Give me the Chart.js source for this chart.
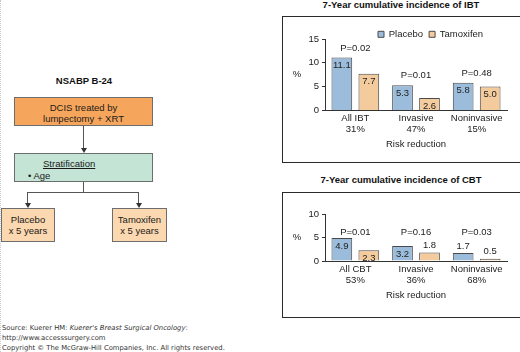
<!DOCTYPE html>
<html>
<head>
<meta charset="utf-8">
<script src="https://cdn.jsdelivr.net/npm/chart.js@4.4.0/dist/chart.umd.min.js"></script>
<style>
  body { margin: 0; background: #fff; }
  #page { position: relative; width: 520px; height: 352px; overflow: hidden;
          font-family: 'Liberation Sans', Arial, sans-serif; color: #222;
          border-left: 1px dotted #c8c8c8; box-sizing: border-box; }
  .abs { position: absolute; }
  .ttl { position: absolute; font-weight: bold; font-size: 9.5px; line-height: 11px; text-align: center; white-space: nowrap; color: #111; }
  .frame { position: absolute; border: 1px solid #2a2a2a; box-sizing: border-box; }
  .fbox { position: absolute; border: 1px solid #6d6d6d; box-sizing: border-box; color: #1a1a1a;
          font-size: 9.5px; line-height: 11.4px; text-align: center; }
  .vline { position: absolute; width: 1px; background: #555; }
  .hline { position: absolute; height: 1px; background: #555; }
  .head { position: absolute; width: 0; height: 0; border-left: 3px solid transparent;
          border-right: 3px solid transparent; border-top: 5px solid #333; }
  .foot { position: absolute; left: 1px; font-family: 'DejaVu Sans', Verdana, sans-serif;
          font-size: 6.8px; line-height: 8px; color: #333; white-space: nowrap; }
  canvas { position: absolute; }
</style>
</head>
<body>
<div id="page">
  <!-- flow chart -->
  <div class="ttl" style="left:33px; width:100px; top:74.5px;">NSABP B-24</div>
  <div class="fbox" style="left:13px; top:97px; width:139px; height:29px; background:#f6a65c; padding-top:4px;">DCIS treated by<br>lumpectomy + XRT</div>
  <div class="vline" style="left:82px; top:126px; height:22px;"></div>
  <div class="head" style="left:79.5px; top:148px;"></div>
  <div class="fbox" style="left:13px; top:153px; width:139px; height:29px; background:#c4e4d6; text-align:left;">
    <div class="abs" style="left:28px; top:4px; text-decoration:underline;">Stratification</div>
    <div class="abs" style="left:13px; top:15.5px;">&bull; Age</div>
  </div>
  <div class="vline" style="left:82px; top:182px; height:11px;"></div>
  <div class="hline" style="left:26px; top:192px; width:112px;"></div>
  <div class="vline" style="left:26px; top:192px; height:11px;"></div>
  <div class="vline" style="left:137px; top:192px; height:11px;"></div>
  <div class="head" style="left:23.5px; top:203px;"></div>
  <div class="head" style="left:134.5px; top:203px;"></div>
  <div class="fbox" style="left:0px; top:208px; width:54px; height:34px; background:#fbd8b0; padding-top:5px;">Placebo<br>x 5 years</div>
  <div class="fbox" style="left:111px; top:208px; width:55px; height:34px; background:#fbd8b0; padding-top:5px;">Tamoxifen<br>x 5 years</div>

  <!-- charts -->
  <div class="ttl" style="left:281px; width:238px; top:-1px;">7-Year cumulative incidence of IBT</div>
  <div class="frame" style="left:281px; top:16px; width:239px; height:147px;"></div>
  <canvas id="chartIBT" width="236" height="144" style="left:282px; top:17px;"></canvas>

  <div class="ttl" style="left:281px; width:238px; top:174px;">7-Year cumulative incidence of CBT</div>
  <div class="frame" style="left:281px; top:192px; width:239px; height:126px;"></div>
  <canvas id="chartCBT" width="236" height="123" style="left:282px; top:193px;"></canvas>

  <!-- footer -->
  <div class="foot" style="top:324px;">Source: Kuerer HM: <i>Kuerer's Breast Surgical Oncology</i>:</div>
  <div class="foot" style="top:333.5px;">http://www.accesssurgery.com</div>
  <div class="foot" style="top:343.5px;">Copyright &copy; The McGraw-Hill Companies, Inc. All rights reserved.</div>
</div>

<script>
// IBT chart data
const groupsIBT = [['All IBT', '31%'], ['Invasive', '47%'], ['Noninvasive', '15%']];
const placeboIBT = [11.1, 5.3, 5.8];
const tamoxifenIBT = [7.7, 2.6, 5.0];
const pValuesIBT = ['P=0.02', 'P=0.01', 'P=0.48'];
const yMaxIBT = 15;

// CBT chart data
const groupsCBT = [['All CBT', '53%'], ['Invasive', '36%'], ['Noninvasive', '68%']];
const placeboCBT = [4.9, 3.2, 1.7];
const tamoxifenCBT = [2.3, 1.8, 0.5];
const pValuesCBT = ['P=0.01', 'P=0.16', 'P=0.03'];
const yMaxCBT = 10;

const yStep = 5;
const FONT = "'Liberation Sans', Arial, sans-serif";
const blue = '#9bbddb';
const tan = '#f4cb9c';
const edge = '#4a4a4a';

Chart.defaults.font.family = FONT;
Chart.defaults.font.size = 9.5;
Chart.defaults.color = '#222';

// value labels on bars, p values over each group, and the "%" unit
const barText = {
    id: 'barText',
    afterDatasetsDraw(chart, args, opts) {
        const ctx = chart.ctx;
        const ys = chart.scales.y;
        const metas = chart.data.datasets.map((d, i) => chart.getDatasetMeta(i));
        ctx.save();
        ctx.font = '9.5px ' + FONT;
        ctx.fillStyle = '#222';
        ctx.textAlign = 'center';
        ctx.textBaseline = 'middle';
        chart.data.datasets.forEach((ds, i) => {
            metas[i].data.forEach((bar, j) => {
                const v = ds.data[j];
                const ty = v >= 2 ? bar.y + 8 : bar.y - 7;
                ctx.fillText(v.toFixed(1), bar.x, ty);
            });
        });
        opts.labels.forEach((t, j) => {
            const top = Math.min(...metas.map(m => m.data[j].y));
            const x = chart.scales.x.getPixelForValue(j);
            const py = opts.level != null ? ys.getPixelForValue(opts.level) : top - opts.gap;
            ctx.fillText(t, x, py);
        });
        ctx.fillText('%', opts.unitX, (ys.top + ys.bottom) / 2);
        ctx.restore();
    }
};

// fixed legend height, and legend placed where the picture has it
const legendPlace = {
    id: 'legendPlace',
    beforeInit(chart, args, opts) {
        const fit = chart.legend.fit;
        chart.legend.fit = function () {
            fit.call(this);
            this.height = opts.height;
        };
    },
    afterLayout(chart, args, opts) {
        const lg = chart.legend;
        const pad = lg.options.labels.padding;
        const w = lg.right - lg.left;
        lg.left = opts.x - pad;
        lg.right = lg.left + w;
        lg.top = opts.y - pad - 9.5 / 2;
    }
};

function makeChart(id, groups, placebo, tamoxifen, pValues, yMax, place) {
    return new Chart(document.getElementById(id), {
        type: 'bar',
        data: {
            labels: groups,
            datasets: [
                { label: 'Placebo', data: placebo, backgroundColor: blue, borderColor: edge, borderWidth: 1 },
                { label: 'Tamoxifen', data: tamoxifen, backgroundColor: tan, borderColor: edge, borderWidth: 1 }
            ]
        },
        options: {
            responsive: false,
            animation: false,
            devicePixelRatio: 1,
            layout: { padding: { top: 0, left: 0, right: 12, bottom: place.bottom } },
            datasets: { bar: { categoryPercentage: 0.89, barPercentage: 0.767 } },
            scales: {
                x: {
                    grid: { drawOnChartArea: false, drawTicks: false },
                    border: { color: '#333' },
                    ticks: { padding: 2.3, maxRotation: 0, autoSkip: false },
                    title: { display: true, text: 'Risk reduction', padding: { top: 1, bottom: 4 } }
                },
                y: {
                    min: 0,
                    max: yMax,
                    ticks: { stepSize: yStep, padding: 3 },
                    grid: { drawOnChartArea: false, tickLength: 3, color: '#333' },
                    border: { color: '#333' },
                    afterFit(s) { s.width = 42; }
                }
            },
            plugins: {
                legend: {
                    position: 'top',
                    align: 'start',
                    labels: { boxWidth: 6, boxHeight: 6, padding: 6 }
                },
                tooltip: { enabled: false },
                legendPlace: { height: place.legendH, x: place.legendX, y: place.legendY },
                barText: { labels: pValues, level: place.pLevel, gap: 9.4, unitX: 14 }
            }
        },
        plugins: [legendPlace, barText]
    });
}

makeChart('chartIBT', groupsIBT, placeboIBT, tamoxifenIBT, pValuesIBT, yMaxIBT,
    { bottom: 6.8, legendH: 22, legendX: 95, legendY: 17.3, pLevel: null });
makeChart('chartCBT', groupsCBT, placeboCBT, tamoxifenCBT, pValuesCBT, yMaxCBT,
    { bottom: 11.1, legendH: 21, legendX: 96, legendY: 25.3, pLevel: 6.15 });
</script>
</body>
</html>
